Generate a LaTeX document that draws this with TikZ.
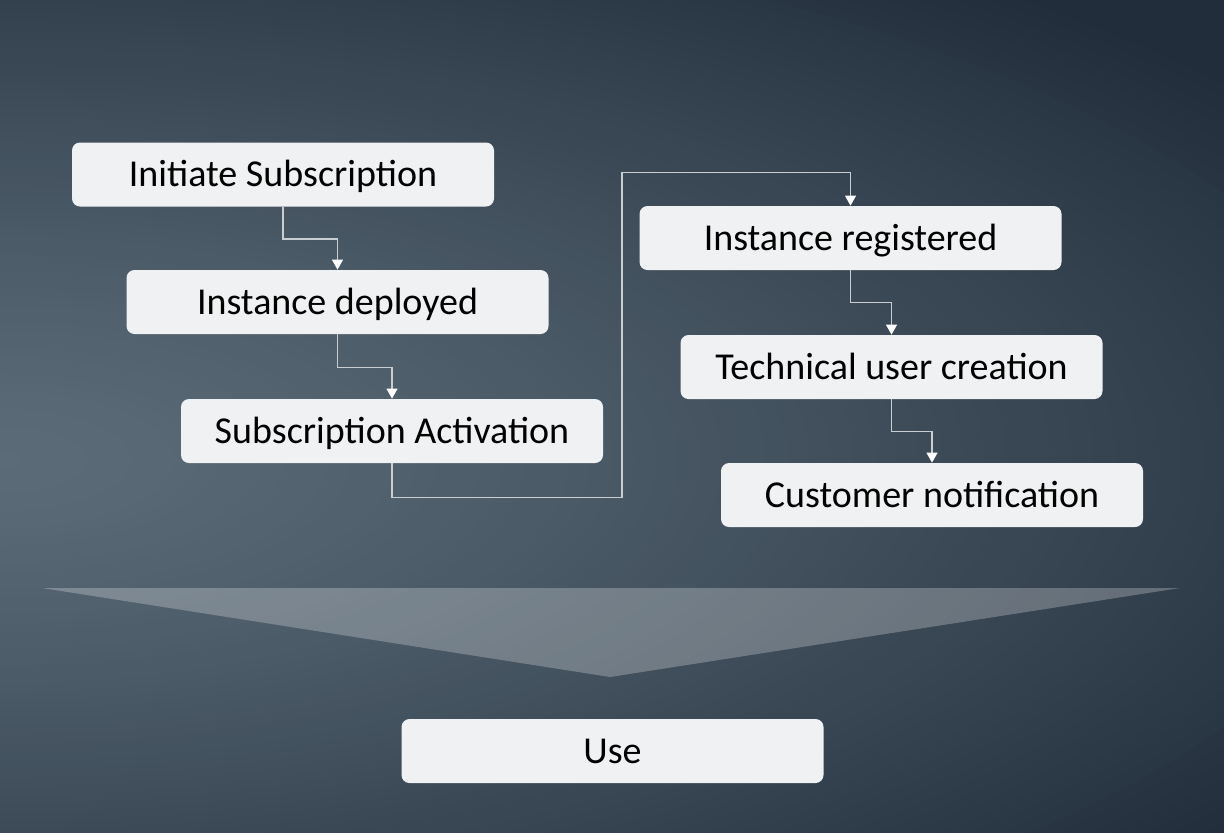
\documentclass[tikz,border=0pt]{standalone}
\usepackage{fontspec}
\setmainfont{Carlito}
\usetikzlibrary{arrows.meta}
\definecolor{bgin}{HTML}{5B6B78}
\definecolor{bgout}{HTML}{212D3A}
\definecolor{boxfill}{HTML}{F0F1F2}
\definecolor{wire}{HTML}{C9CED3}
\begin{document}
\begin{tikzpicture}[x=0.5pt,y=-0.5pt,
    stage node/.style={fill=boxfill,rounded corners=4pt,minimum width=211pt,
      minimum height=32pt,inner sep=0pt,text height=12.2pt,text depth=0pt,
      font=\fontsize{19}{22}\selectfont},
    link/.style={draw=wire,line width=0.6pt,
      -{Triangle[width=5.5pt,length=5pt,fill=white,color=white]}}]
  \useasboundingbox (0,0) rectangle (1224,832);
  % background
  \begin{scope}
    \clip (0,0) rectangle (1224,832);
    \foreach \i in {0,...,79}{
      \pgfmathsetmacro{\bgr}{1.25*(1-\i/80)}
      \pgfmathsetmacro{\mixpct}{min(100,100*(\bgr/1.12)^1.3)}
      \fill[bgout!\mixpct!bgin] (0,460) ellipse [x radius=\bgr*700pt,y radius=\bgr*275pt];
    }
  \end{scope}
  % funnel
  \fill[white,fill opacity=0.25] (42,588) -- (1180,588) -- (610,677) -- cycle;
  % steps
  \node[stage node] (1) at (283,174.5) {Initiate Subscription};
  \node[stage node] (2) at (337.5,302) {Instance deployed};
  \node[stage node] (3) at (392,431) {Subscription Activation};
  \node[stage node] (4) at (850.5,238) {Instance registered};
  \node[stage node] (5) at (891.5,367) {Technical user creation};
  \node[stage node] (6) at (932,495) {Customer notification};
  \node[stage node] (7) at (612.5,751) {Use};
  % connectors
  \draw[link] (1.south) -- ++(0,32) -| (2.north);
  \draw[link] (2.south) -- ++(0,33) -| (3.north);
  \draw[link] (3.south) -- ++(0,34) -- ++(230,0) -- ++(0,-325) -| (4.north);
  \draw[link] (4.south) -- ++(0,32) -| (5.north);
  \draw[link] (5.south) -- ++(0,32) -| (6.north);
\end{tikzpicture}
\end{document}
